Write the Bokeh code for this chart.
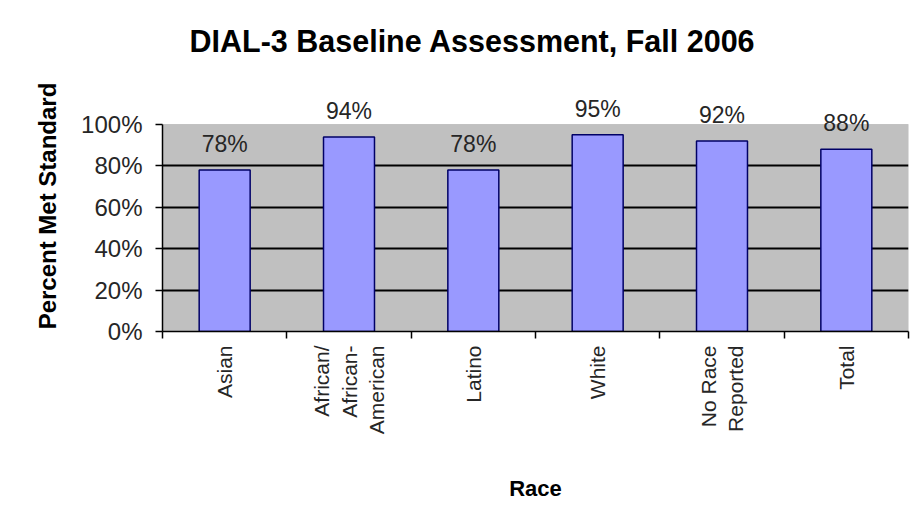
import math
from bokeh.plotting import figure
from bokeh.models import Range1d, FixedTicker, ColumnDataSource, LabelSet, PrintfTickFormatter, BoxAnnotation
from bokeh.core.properties import value
from bokeh.core import enums
from bokeh.embed import file_html
from bokeh.resources import INLINE

categories = ["Asian", "African/\nAfrican-\nAmerican", "Latino", "White", "No Race\nReported", "Total"]
values = [78, 94, 78, 95, 92, 88]
y_ticks = [0, 20, 40, 60, 80, 100]
title_text = "DIAL-3 Baseline Assessment, Fall 2006"
x_title = "Race"
y_title = "Percent Met Standard"

FONT = "Liberation Sans"

# layout (page pixels); the figure sits at the page origin
W, H = 910, 528
FRAME_LEFT, FRAME_RIGHT = 162, 908
FRAME_TOP = 80
TOP100 = 124
BOTTOM0 = 331
y_end = 100 * (BOTTOM0 - FRAME_TOP) / (BOTTOM0 - TOP100)

positions = list(range(1, len(categories) + 1))
labels = [f"{v}%" for v in values]
src = ColumnDataSource(dict(x=positions, top=values, label=labels))

p = figure(width=W, height=H, output_backend="svg", toolbar_location=None,
           x_range=Range1d(0.5, len(categories) + 0.5), y_range=Range1d(0, y_end),
           min_border_left=FRAME_LEFT, min_border_right=W - FRAME_RIGHT,
           min_border_top=FRAME_TOP, min_border_bottom=H - BOTTOM0)

p.background_fill_color = "white"
p.border_fill_color = "white"
p.outline_line_color = None

# grey plot area from 0% to 100%
p.add_layout(BoxAnnotation(bottom=y_ticks[0], top=y_ticks[-1], fill_color="#C0C0C0", fill_alpha=1,
                           line_color="#808080", line_width=1, level="image"))

# chart-area border (top and left edges)
if "canvas" in enums.CoordinateUnits:
    for l, r, t, b in [(8, 10, 5, H), (8, W, 5, 7)]:
        p.add_layout(BoxAnnotation(left=l, right=r, top=t, bottom=b,
                                   left_units="canvas", right_units="canvas",
                                   top_units="canvas", bottom_units="canvas",
                                   fill_color="#505050", fill_alpha=1, line_color=None,
                                   level="overlay", editable=False))

p.vbar(x="x", top="top", width=0.41, source=src, fill_color="#9999FF",
       line_color="#000066", line_width=1.5)

p.add_layout(LabelSet(x="x", y="top", text="label", source=src, text_align="center",
                      text_baseline="alphabetic", y_offset=18, text_font=value(FONT),
                      text_font_size="23px", text_color="#262626"))

# grid
p.xgrid.visible = False
p.ygrid.ticker = FixedTicker(ticks=y_ticks[1:-1])
p.ygrid.grid_line_color = "black"
p.ygrid.grid_line_width = 2

# y axis
ya = p.yaxis[0]
ya.ticker = FixedTicker(ticks=y_ticks)
ya.bounds = (y_ticks[0], y_ticks[-1])
ya.formatter = PrintfTickFormatter(format="%d%%")
ya.major_tick_out = 7
ya.major_tick_in = 0
ya.minor_tick_out = 0
ya.axis_line_color = "black"
ya.axis_line_width = 1.5
ya.major_tick_line_width = 1.5
ya.major_label_standoff = 13
ya.major_label_text_font = FONT
ya.major_label_text_font_size = "24px"
ya.major_label_text_color = "#262626"
ya.axis_label = y_title
ya.axis_label_text_font = FONT
ya.axis_label_text_font_style = "bold"
ya.axis_label_text_font_size = "24px"
ya.axis_label_text_color = "black"
ya.axis_label_standoff = 17

# x axis
xa = p.xaxis[0]
xa.ticker = FixedTicker(ticks=positions, minor_ticks=[i + 0.5 for i in range(len(categories) + 1)])
xa.major_label_overrides = {pos: cat for pos, cat in zip(positions, categories)}
xa.major_tick_out = 0
xa.major_tick_in = 0
xa.minor_tick_out = 7
xa.minor_tick_in = 0
xa.minor_tick_line_width = 1.5
xa.axis_line_color = "black"
xa.axis_line_width = 1.5
xa.major_label_orientation = math.pi / 2
xa.major_label_standoff = 7
xa.major_label_text_font = FONT
xa.major_label_text_font_size = "21px"
xa.major_label_text_color = "#262626"
xa.axis_label = x_title
xa.axis_label_text_font = FONT
xa.axis_label_text_font_style = "bold"
xa.axis_label_text_font_size = "22px"
xa.axis_label_text_color = "black"
xa.axis_label_standoff = 39

# title
p.title.text = title_text
p.title.text_font = FONT
p.title.text_font_style = "bold"
p.title.text_font_size = "30.5px"
p.title.text_color = "black"
p.title.align = "left"
p.title.offset = 27
p.title.vertical_align = "top"
p.title.standoff = 42

open("out.html", "w").write(file_html(p, INLINE))
